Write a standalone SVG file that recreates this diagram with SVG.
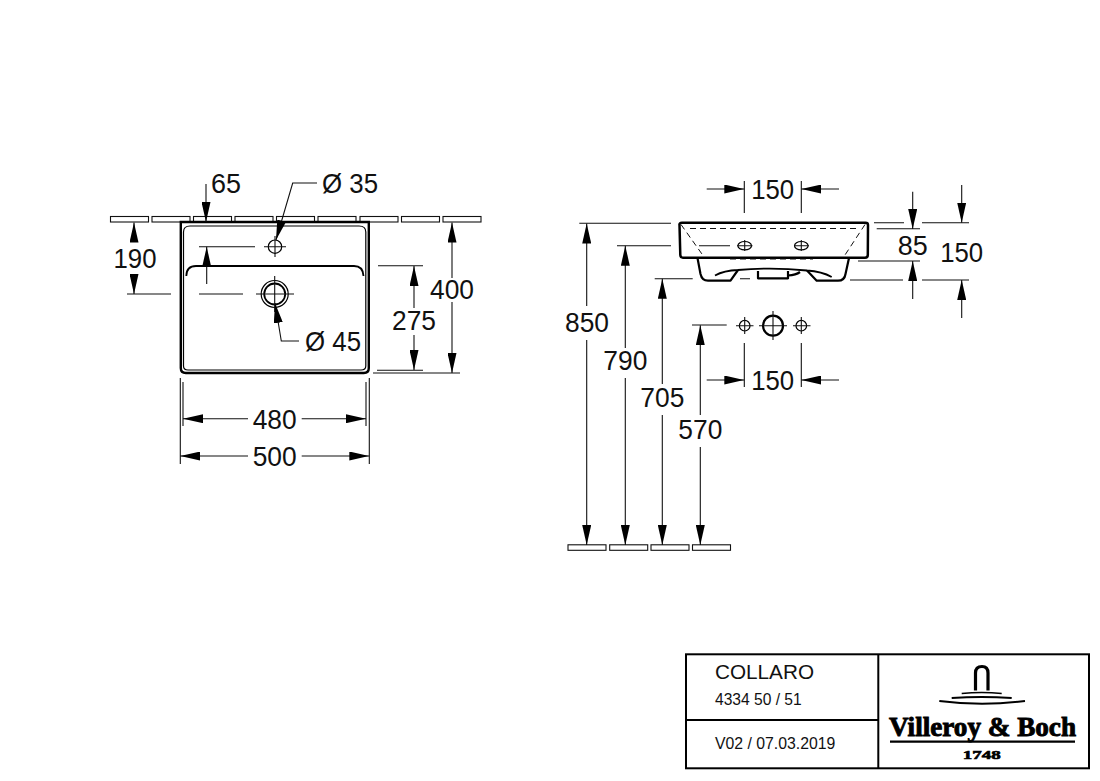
<svg xmlns="http://www.w3.org/2000/svg" width="1100" height="781" viewBox="0 0 1100 781">
<style>
text{font-family:"Liberation Sans",Arial,sans-serif;fill:#111}
.d{font-size:28px}
.m{text-anchor:middle}
.l,.a{fill:none;stroke:#111;stroke-width:1.1}
.a{marker-end:url(#ah)}
.w{fill:#fff;stroke:#111;stroke-width:1.1}
.o{fill:none;stroke:#000;stroke-width:2.2;stroke-linejoin:round}
.t{fill:none;stroke:#000;stroke-width:1.2}
.h{fill:none;stroke:#111;stroke-width:1;stroke-dasharray:6 4}
.f{fill:none;stroke:#000;stroke-width:2}
</style>
<defs>
<marker id="ah" markerUnits="userSpaceOnUse" viewBox="0 0 20 9" refX="20" refY="4.500" markerWidth="20" markerHeight="9" orient="auto"><path d="M0,0 L20,4.500 L0,9 z" fill="#000"/></marker>
<g id="wb"><rect x="0" y="0" width="38" height="5.5" class="w"/></g>
</defs>
<rect width="1100" height="781" fill="#fff"/>

<g id="wall-top">
<use href="#wb" x="110.500" y="216.500"/><use href="#wb" x="152" y="216.500"/><use href="#wb" x="193.500" y="216.500"/><use href="#wb" x="235" y="216.500"/><use href="#wb" x="276.500" y="216.500"/><use href="#wb" x="318" y="216.500"/><use href="#wb" x="360" y="216.500"/><use href="#wb" x="401.500" y="216.500"/><use href="#wb" x="443" y="216.500"/>
</g>
<g id="floor">
<use href="#wb" x="568" y="544.800"/><use href="#wb" x="609.700" y="544.800"/><use href="#wb" x="651" y="544.800"/><use href="#wb" x="692.500" y="544.800"/>
</g>

<g id="basin-plan">
<path d="M180.800,222 H368.800 V368 Q368.800,373 363.800,373 H185.800 Q180.800,373 180.800,368 Z" fill="#fff" stroke="#000" stroke-width="2.4"/>
<path d="M183.500,232 Q183.500,226 190,226 H359 Q365.800,226 365.800,232 V366 Q365.800,370 361,370 H188 Q183.500,370 183.500,366 Z" class="t"/>
<path d="M186.300,276 Q186.500,266 196,266 H354 Q363,266 363.500,276" fill="none" stroke="#000" stroke-width="1.8"/>
<circle cx="275" cy="246.700" r="6.700" class="t"/>
<path d="M264,246.700 H286 M275,236 V257" class="l"/>
<circle cx="274.700" cy="294" r="13.500" class="t"/>
<circle cx="274.700" cy="294" r="10.500" fill="none" stroke="#000" stroke-width="1.8"/>
<path d="M256,294 H294 M274.700,276 V312" class="l"/>
</g>

<g id="basin-side">
<path d="M697.500,258 L700.500,274 Q702,280.700 708,280.700 H730.500 L738,270 M807,270.500 L816.700,280.700 H838 Q844.500,280.700 845.500,274 L849,258" class="o"/>
<path d="M715,275.500 Q724,270.500 738,270 Q772,267 807,270.500 Q822,271.500 831.700,277" fill="none" stroke="#000" stroke-width="1.8"/>
<path d="M758,271 V278.300 H788 V271 M788,275.500 Q796,275 800,272" class="o" stroke-width="1.6"/>
<path d="M679.500,225 Q679,222.800 682,222.800 H865.500 Q868,222.800 868,225 L867.800,255 Q867.800,257.700 865,257.700 H683 Q680.500,257.700 680.300,255 Z" fill="none" stroke="#000" stroke-width="2.5"/>
<path d="M690,228.500 H857 M681,224.500 L703,255.500 M865,224.500 L844,256.500 M730,259 H813" class="h"/>
<ellipse cx="744.700" cy="245.700" rx="6.800" ry="4.200" class="t"/>
<path d="M737,245.700 H752.500 M744.700,240 V251" class="l"/>
<ellipse cx="801.300" cy="245.700" rx="6.800" ry="4.200" class="t"/>
<path d="M794,245.700 H809 M801.300,240 V251" class="l"/>
</g>

<g id="wall-holes">
<circle cx="744.700" cy="325.700" r="5.300" class="t"/>
<path d="M736,325.700 H753.500 M744.700,317 V334" class="l"/>
<circle cx="773" cy="325.700" r="10" fill="none" stroke="#000" stroke-width="2.2"/>
<path d="M759,325.700 H787 M773,311 V340" class="l"/>
<circle cx="801.300" cy="325.700" r="5.300" class="t"/>
<path d="M793,325.700 H810.500 M801.300,317 V334" class="l"/>
</g>

<g id="connectors">
<path class="l" d="M127,294 H171 M199,294 H243 M199,246.700 H255 M378,265.700 H423 M377,370.300 H423 M373,373 H460 M183,382 V426 M366,382 V426 M180.300,378 V464 M369.300,378 V464"/>
<path class="a" d="M206,184 V222"/>
<path class="a" d="M317,183 H292.700 L276,240"/>
<path class="a" d="M206.700,284 V246.800"/>
<path class="a" d="M299,341 H281.300 L275,303"/>
<path class="a" d="M134,240 V222.500"/>
<path class="a" d="M134,274 V294"/>
<path class="a" d="M414,308 V266"/>
<path class="a" d="M414,335 V370"/>
<path class="a" d="M452,278 V222.500"/>
<path class="a" d="M452,302 V373"/>
<path class="a" d="M248,418.700 H183"/>
<path class="a" d="M301.700,418.700 H366"/>
<path class="a" d="M248,456 H180.300"/>
<path class="a" d="M301.700,456 H369.300"/>

<path class="l" d="M579.300,223.300 H671 M617,245.700 H671 M699,245.700 H730 M654.700,278.700 H692.700 M740,278.700 H750 M692,325 H726.700 M874,222.700 H904 M922,222.700 H969 M876.700,228.700 H920 M858,261 H920 M850,280 H903 M922,280 H969 M744.300,181 V213 M801.300,181 V213 M744.300,343 V387 M801.300,343 V387"/>
<path class="a" d="M586.700,306 V223.500"/>
<path class="a" d="M586.700,340 V545"/>
<path class="a" d="M625.300,348 V245.800"/>
<path class="a" d="M625.300,378 V545"/>
<path class="a" d="M662.300,384 V278.800"/>
<path class="a" d="M662.300,415 V545"/>
<path class="a" d="M700.300,415 V325.200"/>
<path class="a" d="M700.300,447 V545"/>
<path class="a" d="M706.700,189 H744.300"/>
<path class="a" d="M839,189 H801.300"/>
<path class="a" d="M706.700,380 H744.300"/>
<path class="a" d="M839,380 H801.300"/>
<path class="a" d="M912.700,191.700 V229"/>
<path class="a" d="M912.700,299 V261"/>
<path class="a" d="M961.700,185 V222.700"/>
<path class="a" d="M961.700,318 V280"/>
</g>

<g id="labels">
<text class="d" x="211" y="192.500" textLength="30" lengthAdjust="spacingAndGlyphs">65</text>
<text class="d" x="322" y="192.500" textLength="56" lengthAdjust="spacingAndGlyphs">Ø 35</text>
<text class="d m" x="135" y="268" textLength="43" lengthAdjust="spacingAndGlyphs">190</text>
<text class="d" x="305" y="350.500" textLength="56" lengthAdjust="spacingAndGlyphs">Ø 45</text>
<text class="d m" x="414" y="329.500" textLength="44" lengthAdjust="spacingAndGlyphs">275</text>
<text class="d m" x="452" y="298.500" textLength="44" lengthAdjust="spacingAndGlyphs">400</text>
<text class="d m" x="274.700" y="428.500" textLength="44" lengthAdjust="spacingAndGlyphs">480</text>
<text class="d m" x="274.700" y="466" textLength="44" lengthAdjust="spacingAndGlyphs">500</text>
<text class="d m" x="772.700" y="198.500" textLength="43" lengthAdjust="spacingAndGlyphs">150</text>
<text class="d m" x="772.700" y="389.500" textLength="43" lengthAdjust="spacingAndGlyphs">150</text>
<text class="d m" x="912.700" y="254.500" textLength="30" lengthAdjust="spacingAndGlyphs">85</text>
<text class="d m" x="961.700" y="261.500" textLength="43" lengthAdjust="spacingAndGlyphs">150</text>
<text class="d m" x="587" y="331.500" textLength="44" lengthAdjust="spacingAndGlyphs">850</text>
<text class="d m" x="625.300" y="370" textLength="44" lengthAdjust="spacingAndGlyphs">790</text>
<text class="d m" x="662.300" y="407" textLength="44" lengthAdjust="spacingAndGlyphs">705</text>
<text class="d m" x="700.300" y="439" textLength="44" lengthAdjust="spacingAndGlyphs">570</text>
</g>

<g id="title-block">
<rect x="686" y="654.300" width="403" height="114" class="f"/>
<path d="M878.300,654.300 V768.300 M686,720 H878.300" class="f"/>
<text x="715" y="679" font-size="21" textLength="99" lengthAdjust="spacingAndGlyphs">COLLARO</text>
<text x="715" y="705" font-size="15.600">4334 50 / 51</text>
<text x="715" y="749" font-size="15.800">V02 / 07.03.2019</text>
</g>

<g id="logo">
<path d="M975.500,690.500 V673 Q975.500,666.500 982,666.500 Q988,666.500 988,673 V690.500" fill="none" stroke="#000" stroke-width="3.200"/>
<path d="M961.700,693.500 Q981.700,691.500 1001.700,693.500" fill="none" stroke="#000" stroke-width="1.700"/>
<path d="M951.700,698 Q981.700,696 1011.700,698" fill="none" stroke="#000" stroke-width="2"/>
<path d="M939.300,701 Q982,706.500 1025,701" fill="none" stroke="#000" stroke-width="2"/>
<text x="889" y="736" textLength="187" lengthAdjust="spacingAndGlyphs" style="font-family:'Liberation Serif','Times New Roman',serif;font-weight:700;font-size:27px;fill:#000;stroke:#000;stroke-width:.9">Villeroy &amp; Boch</text>
<path d="M890,741.700 H1075" fill="none" stroke="#000" stroke-width="2.200"/>
<text x="981.700" y="759" text-anchor="middle" textLength="38" lengthAdjust="spacingAndGlyphs" style="font-family:'Liberation Serif','Times New Roman',serif;font-weight:700;font-size:12.500px;fill:#000;stroke:#000;stroke-width:.6">1748</text>
</g>
</svg>
